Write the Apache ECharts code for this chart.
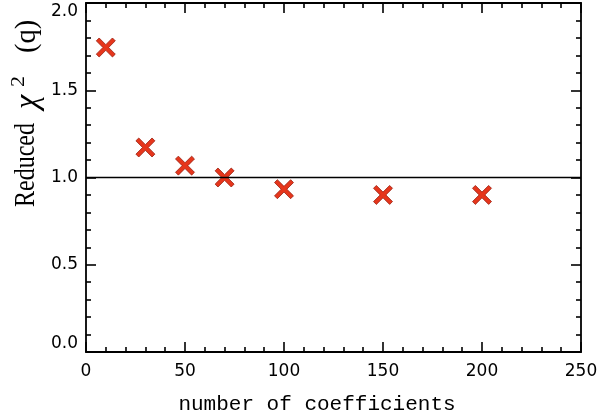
<!DOCTYPE html>
<html>
<head>
<meta charset="utf-8">
<script src="https://cdn.jsdelivr.net/npm/echarts@6/dist/echarts.min.js"></script>
<style>
  html, body { margin: 0; padding: 0; background: #fff; }
  #chart { width: 600px; height: 416px; }
</style>
</head>
<body>
<div id="chart"></div>
<script>
// number of coefficients vs reduced chi^2
const nCoeff = [10, 30, 50, 70, 100, 150, 200];
const chi2 = [1.745, 1.172, 1.068, 1.0, 0.933, 0.9, 0.9];
const refLine = [[0, 1.0], [250, 1.0]];

const xTicks = { min: 0, max: 250, interval: 50 };
const yTicks = { min: 0, max: 2, interval: 0.5 };

const crossPath = 'path://M0,3 L3,0 L10,7 L17,0 L20,3 L13,10 L20,17 L17,20 L10,13 L3,20 L0,17 L7,10 Z';

const axisBase = (pos, showLabel, isY) => ({
  type: 'value',
  position: pos,
  min: isY ? yTicks.min : xTicks.min,
  max: isY ? yTicks.max : xTicks.max,
  interval: isY ? yTicks.interval : xTicks.interval,
  axisLine: { show: true, onZero: false, lineStyle: { color: '#000', width: 1.8 } },
  axisTick: { show: true, inside: true, length: 10, lineStyle: { color: '#000', width: 1.6 } },
  minorTick: { show: true, splitNumber: 5, length: 5, lineStyle: { color: '#000', width: 1.6 } },
  splitLine: { show: false },
  axisLabel: {
    show: showLabel,
    color: '#000',
    fontFamily: 'DejaVu Sans',
    fontSize: 17,
    margin: isY ? 8 : 11,
    verticalAlignMinLabel: isY ? 'bottom' : null,
    verticalAlignMaxLabel: isY ? 'top' : null,
    formatter: v => isY ? v.toFixed(1) : String(v)
  }
});

// rotated y-axis title pieces
const yTitle = (text, x, y, size, sx, italic) => ({
  type: 'text',
  x: x, y: y,
  rotation: Math.PI / 2,
  scaleX: sx,
  style: {
    text: text,
    fontFamily: 'Liberation Serif',
    fontStyle: italic ? 'italic' : 'normal',
    fontSize: size,
    fill: '#000',
    align: 'left',
    verticalAlign: 'middle'
  }
});

const chart = echarts.init(document.getElementById('chart'));
chart.setOption({
  animation: false,
  backgroundColor: '#fff',
  grid: { left: 86, right: 19, top: 3, bottom: 64, outerBoundsMode: 'none', containLabel: false },
  xAxis: [axisBase('bottom', true, false), axisBase('top', false, false)],
  yAxis: [axisBase('left', true, true), axisBase('right', false, true)],
  graphic: [
    {
      type: 'text',
      x: 317, y: 404,
      style: {
        text: 'number of coefficients',
        fontFamily: 'Liberation Mono',
        fontSize: 21,
        fill: '#000',
        align: 'center',
        verticalAlign: 'middle'
      }
    },
    yTitle('Reduced', 26, 207, 30, 0.8, false),
    yTitle('χ', 28, 109, 34, 0.95, true),
    yTitle('2', 19, 87, 19, 1.15, false),
    yTitle('(q)', 27, 53, 30, 0.95, false)
  ],
  series: [
    {
      type: 'line',
      data: refLine,
      symbol: 'none',
      silent: true,
      lineStyle: { color: '#000', width: 1.6 }
    },
    {
      type: 'scatter',
      data: nCoeff.map((x, i) => [x, chi2[i]]),
      symbol: crossPath,
      symbolSize: 19,
      itemStyle: { color: '#e6361c', borderColor: '#9a2010', borderWidth: 0.8, opacity: 1 }
    }
  ]
});
</script>
</body>
</html>
